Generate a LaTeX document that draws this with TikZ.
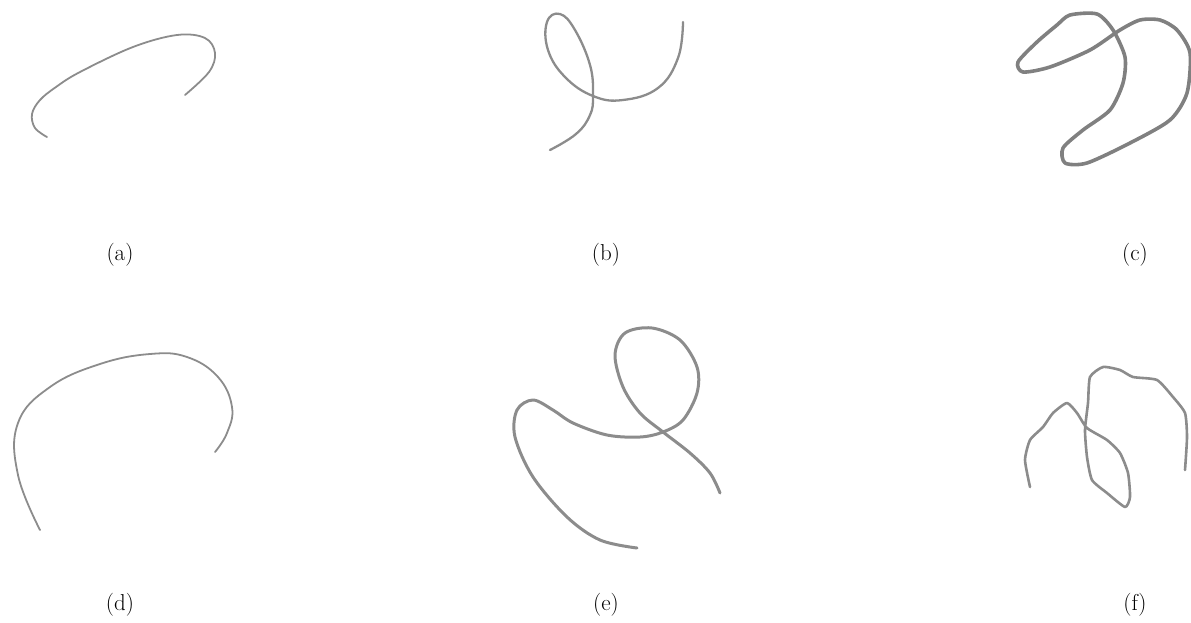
\documentclass[tikz,border=0pt]{standalone}
\begin{document}
\begin{tikzpicture}[x=1pt,y=-1pt,
  stroke/.style={draw=black!45,line cap=round,line join=round},
  lbl/.style={font=\fontsize{23}{27}\selectfont,inner sep=0pt}]
\useasboundingbox (0,0) rectangle (1191,622);
% (a)
\draw[stroke,line width=1.8pt] plot[smooth,tension=0.6] coordinates {(47,137) (35,128) (32,114) (40,100) (56,87) (80,72) (133,47) (177,35) (205,38) (215,53) (209,72) (185,95)};
% (b)
\draw[stroke,line width=2.3pt] plot[smooth,tension=0.7] coordinates {(550,150) (576,134) (590,115) (593,95) (590,65) (575,30) (560,14) (547,22) (548,50) (565,77) (593,96) (623,100) (658,88) (678,58) (683,22)};
% (c)
\draw[stroke,draw=black!50,line width=3.6pt] plot[smooth cycle,tension=0.45] coordinates {(1070,15) (1097,14) (1113,30) (1125,57) (1123,83) (1110,110) (1083,130) (1063,148) (1065,163) (1087,163) (1130,143) (1170,120) (1187,93) (1190,53) (1177,30) (1160,20) (1140,20) (1120,30) (1090,50) (1050,67) (1023,72) (1018,62) (1037,42) (1057,25)};
% (d)
\draw[stroke,line width=1.8pt] plot[smooth,tension=0.7] coordinates {(40,530) (18,475) (18,423) (50,387) (100,364) (150,354) (187,357) (218,377) (232,407) (227,433) (215,452)};
% (e)
\draw[stroke,line width=3pt] plot[smooth,tension=0.55] coordinates {(637,548) (600,540) (567,517) (533,477) (515,437) (517,410) (533,400) (553,410) (573,423) (607,435) (640,437) (663,432) (683,420) (697,393) (697,367) (680,340) (652,328) (625,333) (615,355) (623,387) (640,413) (663,432) (690,453) (710,473) (720,493)};
% (f)
\draw[stroke,line width=2.6pt] plot[smooth,tension=0.35] coordinates {(1030,487) (1025,460) (1030,440) (1043,427) (1053,413) (1067,403) (1077,413) (1087,428) (1107,440) (1120,453) (1128,473) (1130,497) (1125,507) (1107,493) (1092,480) (1087,457) (1085,430) (1088,403) (1090,377) (1103,367) (1120,370) (1133,377) (1157,380) (1173,397) (1185,413) (1187,437) (1185,470)};
% labels
\node[lbl] (la) at (120,255) {(a)};
\node[lbl] (lb) at (606,255) {(b)};
\node[lbl] (lc) at (1135,255) {(c)};
\node[lbl] (ld) at (120,605) {(d)};
\node[lbl] (le) at (606,605) {(e)};
\node[lbl] (lf) at (1135,605) {(f)};
\end{tikzpicture}
\end{document}
